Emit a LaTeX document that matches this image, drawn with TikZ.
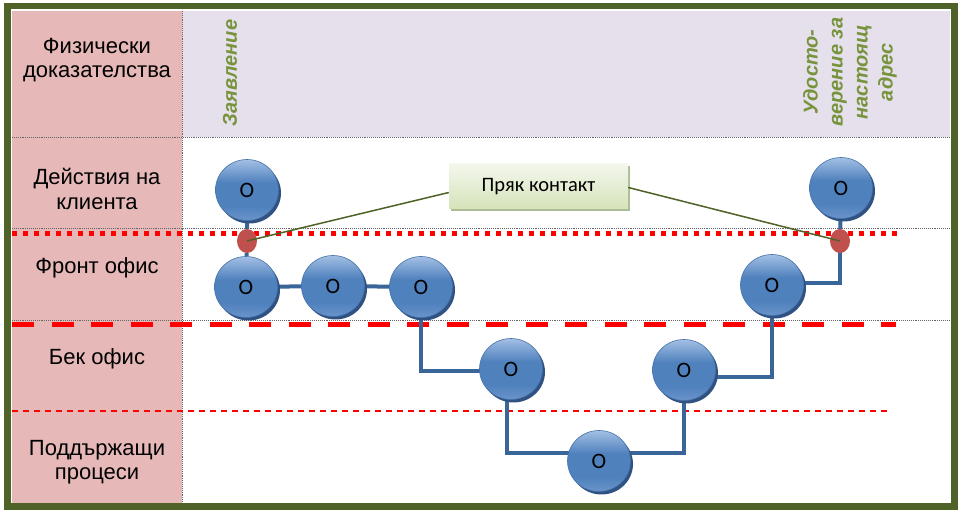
\documentclass[tikz,border=0pt]{standalone}
\usepackage{fontspec}
\setmainfont{Liberation Sans}
\newfontfamily\boxfont{Carlito}
\usetikzlibrary{shapes.geometric,shadows}
\pgfdeclarelayer{bg}
\pgfdeclarelayer{lines}
\pgfsetlayers{bg,lines,main}
\definecolor{frameol}{HTML}{4F6228}
\definecolor{lanepink}{HTML}{E6B9B8}
\definecolor{lanelav}{HTML}{E5E0EC}
\definecolor{greentxt}{HTML}{77933C}
\definecolor{connblue}{HTML}{3A6598}
\definecolor{procTop}{HTML}{A3BFE4}
\definecolor{procMid}{HTML}{4F81BD}
\definecolor{procBot}{HTML}{6A93CA}
\definecolor{procEdge}{HTML}{4672A8}
\definecolor{procShadow}{HTML}{2F5283}
\definecolor{redpt}{HTML}{C0504D}
\definecolor{linered}{HTML}{FF0000}
\definecolor{boxTop}{HTML}{F3F7EC}
\definecolor{boxBot}{HTML}{D5E3BA}
\definecolor{boxShadow}{HTML}{A4B58A}
\pgfdeclareverticalshading{procshade}{100bp}{color(0bp)=(procBot); color(25bp)=(procBot); color(37bp)=(procMid); color(56bp)=(procMid); color(75bp)=(procTop); color(100bp)=(procTop)}
\tikzset{
  lanelabel/.style={align=center, text=black, font=\fontsize{22}{24.5}\selectfont},
  proc/.style={ellipse, minimum width=63pt, minimum height=61pt, inner sep=0pt,
    shading=procshade,
    draw=procEdge, line width=0.6pt,
    drop shadow={shadow xshift=2.5pt, shadow yshift=-3pt, fill=procShadow, opacity=1},
    font=\boxfont\fontsize{22}{22}\selectfont, text=black},
  vispt/.style={ellipse, fill=redpt, minimum width=20pt, minimum height=24pt, inner sep=0pt},
  connl/.style={draw=connblue, line width=4pt},
  contactl/.style={draw=frameol, line width=1.5pt},
  griddot/.style={draw=black!60, line width=0.9pt, densely dotted},
  evid/.style={rotate=90, align=center, text=greentxt, font=\fontsize{20}{25}\selectfont\bfseries\itshape},
}
\begin{document}
\begin{tikzpicture}[x=1pt,y=-1pt]
\useasboundingbox (0,0) rectangle (962,510);
\begin{pgfonlayer}{bg}
  % frame
  \fill[frameol] (4,3) rectangle (958,510);
  \fill[white] (11,9) rectangle (951,503);
  % lane fills
  \fill[lanepink] (12,11) rectangle (182,503);
  \fill[lanelav] (182,11) rectangle (950,137);
  % grid lines
  \draw[griddot] (12,137) -- (950,137);
  \draw[griddot] (12,228) -- (950,228);
  \draw[griddot] (12,320) -- (950,320);
  \draw[griddot] (182,11) -- (182,503);
  % red separators
  \draw[linered, line width=5pt, dash pattern=on 5pt off 6pt] (12,234) -- (897,234);
  \draw[linered, line width=5pt, dash pattern=on 22pt off 17.5pt] (12,325) -- (896,325);
  \draw[linered, line width=1.4pt, dash pattern=on 6pt off 5pt] (12,411) -- (890,411);
\end{pgfonlayer}

% lane labels
\node[lanelabel] (l1) at (97,60) {Физически\\доказателства};
\node[lanelabel] (l2) at (97,189) {Действия на\\клиента};
\node[lanelabel] (l3) at (97,268) {Фронт офис};
\node[lanelabel] (l4) at (97,359) {Бек офис};
\node[lanelabel] (l5) at (97,462) {Поддържащи\\процеси};

% physical evidence
\node[evid] (e1) at (230,73) {Заявление};
\node[evid] (e2) at (850,72) {Удосто-\\верение за\\настоящ\\адрес};

% process nodes
\node[proc] (cl) at (247,190) {O};
\node[proc] (cr) at (841,188) {O};
\node[proc] (f1) at (246,287) {O};
\node[proc] (f2) at (333,286) {O};
\node[proc] (f3) at (421,287) {O};
\node[proc] (fr) at (772,285) {O};
\node[proc] (b1) at (511,369) {O};
\node[proc] (b2) at (684,370) {O};
\node[proc] (s1) at (599,461) {O};

% line of visibility points
\node[vispt] (rl) at (247,241) {};
\node[vispt] (rr) at (840,241) {};

% direct contact box
\node[rectangle, minimum width=179pt, minimum height=45pt, inner sep=0pt,
  top color=boxTop, bottom color=boxBot,
  drop shadow={shadow xshift=2pt, shadow yshift=-2.5pt, fill=boxShadow, opacity=0.9},
  font=\boxfont\fontsize{20.5}{20.5}\selectfont] (pk) at (538.5,186.5) {Пряк контакт};

\draw[contactl] ([yshift=-6pt]pk.west) -- (rl.center);
\draw[contactl] ([yshift=-1pt]pk.east) -- (rr.center);

% connectors
\begin{pgfonlayer}{lines}
  \draw[connl] (cl) -- (rl) -- (f1);
  \draw[connl] (f1) -- (f2);
  \draw[connl] (f2) -- (f3);
  \draw[connl] (f3.center) |- ([yshift=-2pt]b1.center);
  \draw[connl] ([xshift=-4pt]b1.center) |- ([yshift=8pt]s1.center);
  \draw[connl] ([yshift=8pt]s1.center) -| (b2.center);
  \draw[connl] ([yshift=-7pt]b2.center) -| (fr.center);
  \draw[connl] ([yshift=2pt]fr.center) -| (rr.center);
  \draw[connl] (rr) -- (cr);
\end{pgfonlayer}
\end{tikzpicture}
\end{document}
